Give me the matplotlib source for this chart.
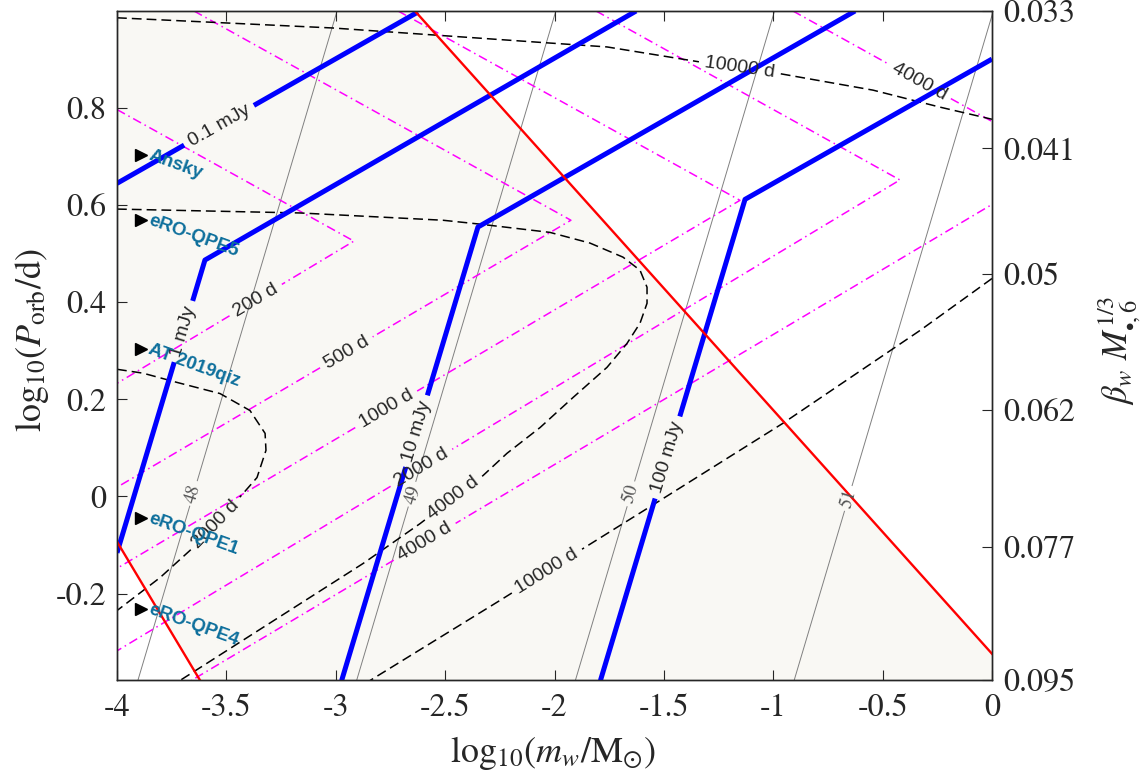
import numpy as np
import matplotlib
matplotlib.use('Agg')
import matplotlib.pyplot as plt

plt.rcParams['font.family'] = ['STIXGeneral', 'DejaVu Serif']
plt.rcParams['mathtext.fontset'] = 'stix'
plt.rcParams['axes.unicode_minus'] = False

# ---- data ----
xlim = (-4.0, 0.0)
ylim = (-0.378, 1.0)

# red limits, shaded region between them
red_upper_x = [-2.638, 0.0]
red_upper_y = [1.0, -0.324]
red_lower_x = [-4.0, -3.62]
red_lower_y = [-0.093, -0.379]

# blue flux contours
flux_labels = ['0.1 mJy', '1 mJy', '10 mJy', '100 mJy']
flux_x = [[-4.0, -2.624], [-4.0, -3.598, -1.627], [-2.973, -2.350, -0.626], [-1.790, -1.129, 0.0]]
flux_y = [[0.645, 0.998], [-0.116, 0.487, 1.0], [-0.379, 0.555, 1.0], [-0.379, 0.612, 0.901]]
flux_lab_x = [[-3.534], [-3.698], [-2.642], [-1.481]]
flux_lab_y = [[0.765], [0.340], [0.136], [0.080]]

# magenta dash-dot chevrons
chev_labels = ['200 d', '500 d', '1000 d', '2000 d', '4000 d']
chev_x = [[-4.0, -2.917, -4.0], [-3.648, -1.925, -4.0], [-2.715, -1.152, -4.0],
          [-1.810, -0.421, -4.0], [-0.910, 0.33, -3.66]]
chev_y = [[0.797, 0.526, 0.233], [1.0, 0.569, 0.019], [1.0, 0.610, -0.148],
          [1.0, 0.652, -0.318], [1.0, 0.69, -0.379]]
chev_lab_x = [[-3.360], [-2.949], [-2.766], [-2.615], [-2.578, -0.329]]
chev_lab_y = [[0.400], [0.295], [0.177], [0.064], [-0.105, 0.858]]

# black dashed contours
small_u_x = [-4.000, -3.881, -3.726, -3.529, -3.392, -3.323, -3.319, -3.360, -3.424, -3.545, -3.666, -3.803, -4.000]
small_u_y = [0.262, 0.254, 0.235, 0.212, 0.177, 0.130, 0.095, 0.039, 0.006, -0.055, -0.111, -0.167, -0.235]
mid_u_x = [-4.000, -3.163, -2.510, -2.341, -2.021, -1.838, -1.687, -1.609, -1.577, -1.577, -1.609,
           -1.669, -1.760, -1.915, -2.066, -2.217, -2.327, -2.615, -2.875, -3.712]
mid_u_y = [0.592, 0.584, 0.569, 0.561, 0.544, 0.522, 0.493, 0.466, 0.431, 0.398, 0.357,
           0.315, 0.266, 0.204, 0.142, 0.089, 0.043, -0.056, -0.138, -0.379]
big_top_x = [-4.000, -3.013, -2.021, -1.760, -1.335, -0.983, -0.544, -0.238, 0.0]
big_top_y = [0.986, 0.965, 0.934, 0.926, 0.895, 0.872, 0.837, 0.802, 0.777]
big_bot_x = [0.0, -0.329, -0.955, -1.531, -2.249, -2.843]
big_bot_y = [0.449, 0.342, 0.151, -0.012, -0.214, -0.379]
dash_x = [small_u_x, mid_u_x, big_top_x, big_bot_x]
dash_y = [small_u_y, mid_u_y, big_top_y, big_bot_y]
dash_labels = ['2000 d', '4000 d', '10000 d', '10000 d']
dash_lab_x = [[-3.545], [-2.464], [-1.152], [-2.030]]
dash_lab_y = [[-0.058], [-0.002], [0.885], [-0.157]]

# thin grey lines
lum_labels = ['48', '49', '50', '51']
lum_x_bot = [-3.904, -2.904, -1.904, -0.904]
lum_x_top = [-2.994, -1.994, -0.994, 0.006]
lum_lab_x = [-3.648, -2.661, -1.655, -0.672]
lum_lab_y = [0.006, 0.006, 0.006, -0.002]

# sources
src_names = ['Ansky', 'eRO-QPE5', 'AT 2019qiz', 'eRO-QPE1', 'eRO-QPE4']
src_logP = [0.703, 0.569, 0.303, -0.045, -0.231]
src_x = -3.89

# right axis ticks
beta_ticks = [0.033, 0.041, 0.05, 0.062, 0.077, 0.095]
beta_zero = -3.4445

# ---- figure ----
fig = plt.figure(figsize=(11.44, 7.75), dpi=100)
ax = fig.add_axes([117/1144, 1-680/775, 875/1144, 669/775])
ax.set_xlim(xlim)
ax.set_ylim(ylim)
renderer = fig.canvas.get_renderer()

xs = np.linspace(xlim[0], xlim[1], 500)
ax.fill_between(xs, np.interp(xs, red_lower_x, red_lower_y),
                np.interp(xs, red_upper_x, red_upper_y),
                color='#f9f8f4', lw=0, zorder=0)

lab_font = dict(family='Liberation Sans', size=14, color='#262626')


def path_len(P):
    d = np.hypot(*np.diff(P, axis=0).T)
    return np.concatenate([[0], np.cumsum(d)]), d


def piece(P, s, a, b):
    inner = P[(s > a) & (s < b)]
    pa = [np.interp(a, s, P[:, 0]), np.interp(a, s, P[:, 1])]
    pb = [np.interp(b, s, P[:, 0]), np.interp(b, s, P[:, 1])]
    return np.vstack([pa, inner, pb])


def labeled_line(x, y, labels, lx, ly, style, font, pad=6, z=2):
    P = ax.transData.transform(np.column_stack([x, y]))
    s, d = path_len(P)
    gaps = []
    for lab, px, py in zip(labels, lx, ly):
        L = ax.transData.transform((px, py))
        best = None
        for i in range(len(P) - 1):
            a, b = P[i], P[i + 1]
            v = b - a
            t = np.clip(np.dot(L - a, v) / np.dot(v, v), 0, 1)
            q = a + t * v
            dist = np.hypot(*(L - q))
            if best is None or dist < best[0]:
                best = (dist, s[i] + t * d[i], q, v)
        _, s0, q, v = best
        ang = np.degrees(np.arctan2(v[1], v[0]))
        if ang > 90:
            ang -= 180
        if ang <= -90:
            ang += 180
        qd = ax.transData.inverted().transform(q)
        t = ax.text(qd[0], qd[1], lab, ha='center', va='center',
                    rotation_mode='anchor', zorder=6, **font)
        w = t.get_window_extent(renderer).width
        t.set_rotation(ang)
        gaps.append((s0, w / 2 + pad))
    gaps.sort()
    start = 0.0
    keep = []
    for s0, g in gaps:
        if s0 - g > start:
            keep.append((start, s0 - g))
        start = s0 + g
    if start < s[-1]:
        keep.append((start, s[-1]))
    inv = ax.transData.inverted()
    for a, b in keep:
        Q = inv.transform(piece(P, s, a, b))
        ax.plot(Q[:, 0], Q[:, 1], zorder=z, **style)


# grey lines
grey_font = dict(family='STIXGeneral', size=13.5, color='#555555')
for i in range(len(lum_labels)):
    labeled_line([lum_x_bot[i], lum_x_top[i]], [ylim[0], ylim[1]], [lum_labels[i]],
                 [lum_lab_x[i]], [lum_lab_y[i]],
                 dict(color='#808080', lw=0.7), grey_font, pad=4, z=1)

# magenta
for i in range(len(chev_labels)):
    labeled_line(chev_x[i], chev_y[i], [chev_labels[i]] * len(chev_lab_x[i]),
                 chev_lab_x[i], chev_lab_y[i],
                 dict(color='#ff00ff', lw=1.1, ls=(0, (5.9, 2.6, 1.0, 2.6))), lab_font, z=2)

# black dashed
for i in range(len(dash_labels)):
    labeled_line(dash_x[i], dash_y[i], [dash_labels[i]], dash_lab_x[i], dash_lab_y[i],
                 dict(color='black', lw=1.1, ls=(0, (6.4, 3.3))), lab_font, z=2)

# blue
for i in range(len(flux_labels)):
    labeled_line(flux_x[i], flux_y[i], [flux_labels[i]], flux_lab_x[i], flux_lab_y[i],
                 dict(color='#0000ff', lw=3.6, solid_capstyle='butt', solid_joinstyle='round'),
                 lab_font, z=3)

# red
ax.plot(red_upper_x, red_upper_y, color='#ff0000', lw=1.7, zorder=4)
ax.plot(red_lower_x, red_lower_y, color='#ff0000', lw=1.7, zorder=4)

# sources
for name, yv in zip(src_names, src_logP):
    ax.plot(src_x, yv, marker='>', color='black', ms=9, ls='none', zorder=7)
    ax.annotate(name, (src_x, yv), xytext=(6, 0), textcoords='offset points',
                ha='left', va='center', rotation=-20, rotation_mode='anchor',
                family='Liberation Sans', weight='bold', size=13.5, color='#0e6f9c', zorder=7)

# axes styling
ax.set_xticks(np.arange(-4, 0.01, 0.5))
ax.set_xticklabels(['-4', '-3.5', '-3', '-2.5', '-2', '-1.5', '-1', '-0.5', '0'])
ax.set_yticks([-0.2, 0, 0.2, 0.4, 0.6, 0.8])
ax.set_yticklabels(['-0.2', '0', '0.2', '0.4', '0.6', '0.8'])
ax.tick_params(direction='in', length=7, width=0.8, colors='#262626', labelsize=23,
               top=True, right=False)
ax.tick_params(axis='x', pad=10)
ax.tick_params(axis='y', pad=8)
for sp in ax.spines.values():
    sp.set_color('#262626')
    sp.set_linewidth(1.0)

ax2 = ax.twinx()
ax2.set_ylim(ylim)
ax2.set_yticks([beta_zero - 3 * np.log10(b) for b in beta_ticks])
ax2.set_yticklabels([str(b) for b in beta_ticks])
ax2.tick_params(direction='in', length=7, width=0.8, colors='#262626', labelsize=23, pad=8)
for sp in ax2.spines.values():
    sp.set_color('#262626')
    sp.set_linewidth(1.0)

fig.text(553/1144, 1-762/775, r'$\mathrm{log}_{10}(m_w/{\rm M}_{\odot})$', ha='center', va='baseline',
         fontsize=26, color='#262626')
fig.text(32/1144, 1-340/775, r'$\mathrm{log}_{10}(P_{\rm orb}/{\rm d})$', ha='center', va='center',
         rotation=90, fontsize=26, color='#262626')
fig.text(1120/1144, 1-350/775, r'$\beta_w\ M_{\bullet,6}^{1/3}$', ha='center', va='center',
         rotation=90, fontsize=25, color='#262626')

fig.savefig('out.png', dpi=100)
